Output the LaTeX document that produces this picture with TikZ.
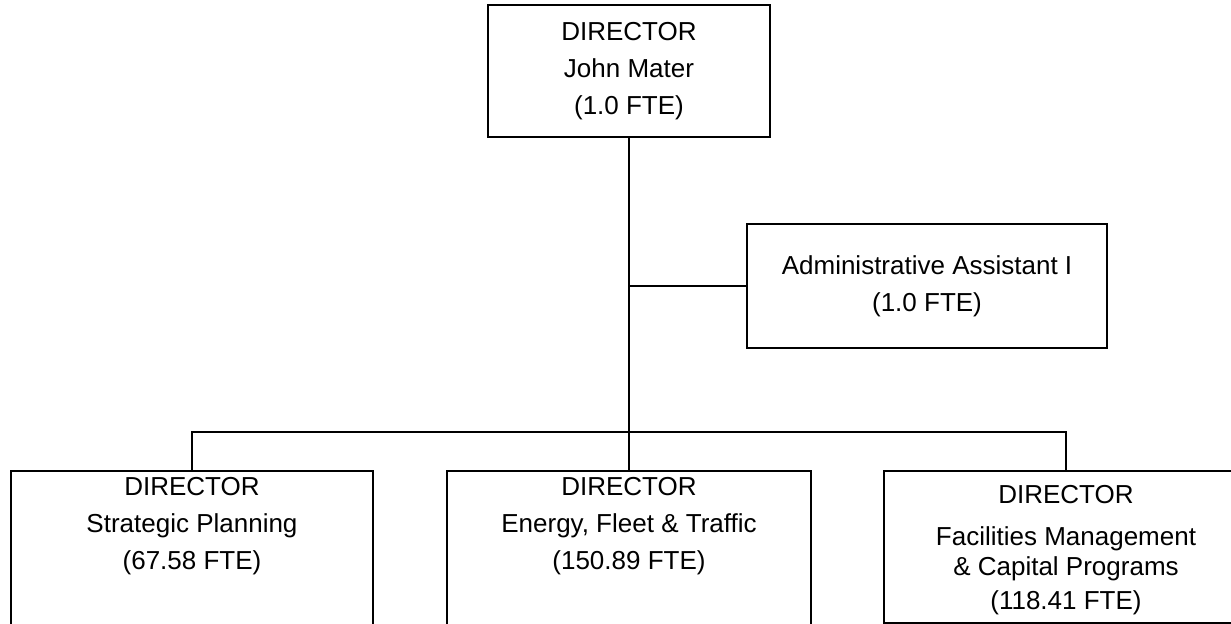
\documentclass[tikz,border=0pt]{standalone}
\usepackage{fontspec}
\setmainfont{Liberation Sans}

\begin{document}
\begin{tikzpicture}[x=0.5pt,y=-0.5pt,
    orgbox/.style={draw,line width=1pt,align=center,
      font=\fontsize{13pt}{18.5pt}\selectfont},
    unitbox/.style={orgbox,anchor=north,minimum width=182pt}]
    \useasboundingbox (0,0) rectangle (1231,624);
    \node[orgbox,minimum width=141pt,minimum height=66pt] (dir) at (629,71)
      {DIRECTOR\\John Mater\\(1.0 FTE)};
    \node[orgbox,minimum width=180pt,minimum height=62pt] (admin) at (927,286)
      {Administrative Assistant I\\(1.0 FTE)};
    \node[unitbox,minimum width=181pt,text depth=30pt] (sp) at (192,470)
      {DIRECTOR\\Strategic Planning\\(67.58 FTE)};
    \node[unitbox,text depth=30pt] (eft) at (629,470)
      {DIRECTOR\\Energy, Fleet \& Traffic\\(150.89 FTE)};
    \node[unitbox,minimum height=76pt,text depth=0pt] (fc) at (1066,470)
      {DIRECTOR\\[2.5pt]Facilities Management\\[-3.5pt]\& Capital Programs\\[-1.5pt](118.41 FTE)};
    \coordinate (bus) at (629,432);
    \draw[line width=1pt] (dir.south) -- (bus);
    \draw[line width=1pt] (admin.west) -- (admin.west -| dir.south);
    \draw[line width=1pt] (sp.north) |- (bus) -| (fc.north);
    \draw[line width=1pt] (eft.north) -- (bus);
\end{tikzpicture}
\end{document}
